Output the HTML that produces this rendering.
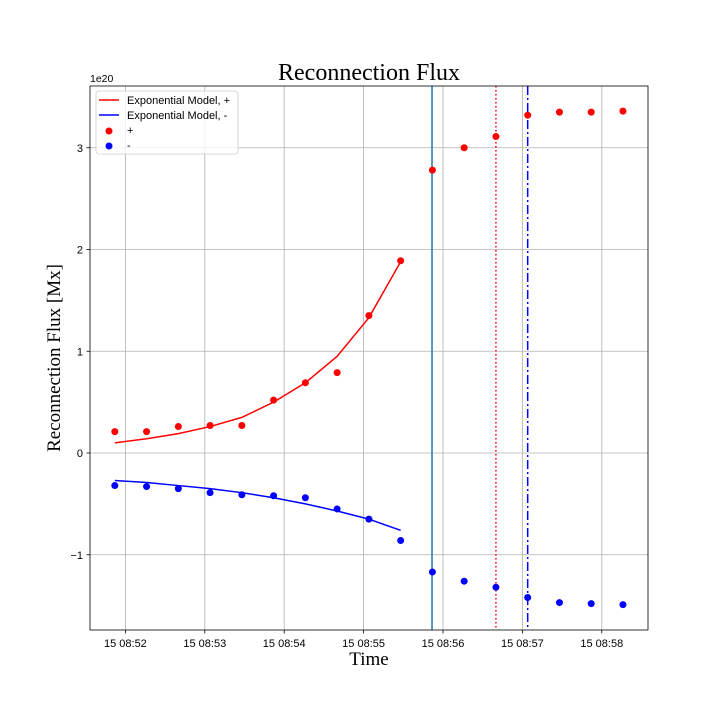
<!DOCTYPE html>
<html><head><meta charset="utf-8"><style>
body{margin:0;background:#fff}
svg{font-family:"Liberation Sans",sans-serif}
</style></head><body>
<svg id="chart" width="720" height="720" viewBox="0 0 720 720">
<text x="369" y="80" text-anchor="middle" font-family="Liberation Serif,serif" font-size="24">Reconnection Flux</text>
<text x="369" y="665" text-anchor="middle" font-family="Liberation Serif,serif" font-size="19">Time</text>
<text transform="translate(60,358) rotate(-90)" text-anchor="middle" font-family="Liberation Serif,serif" font-size="19">Reconnection Flux [Mx]</text>
<text x="90" y="82" font-size="10.5">1e20</text>
<g id="grid"></g><g id="marks"></g><g id="axes"></g>
</svg>
<script>
const times = [];
const startSec = 51*60+52; // 08:51:52
for (let i=0;i<17;i++) times.push(startSec+24*i);
const plusValues = [0.21,0.21,0.26,0.27,0.27,0.52,0.69,0.79,1.35,1.89,2.78,3.0,3.11,3.32,3.35,3.35,3.36];
const minusValues = [-0.32,-0.33,-0.35,-0.39,-0.41,-0.42,-0.44,-0.55,-0.65,-0.86,-1.17,-1.26,-1.32,-1.42,-1.47,-1.48,-1.49];
const plusModel = [0.10,0.14,0.19,0.26,0.35,0.50,0.69,0.95,1.33,1.88];
const minusModel = [-0.27,-0.29,-0.32,-0.35,-0.39,-0.44,-0.50,-0.57,-0.65,-0.76];
const xTickMinutes = [52,53,54,55,56,57,58];
const xTickLabels = ["15 08:52","15 08:53","15 08:54","15 08:55","15 08:56","15 08:57","15 08:58"];
const yTicks = [-1,0,1,2,3];
const yTickLabels = ["\u22121","0","1","2","3"];
const vlineSolid = 55*60+51.7, vlineDotted = 56*60+40, vlineDashDot = 57*60+4;

const L=90,R=648,T=86,B=630;
const pxPerMin=79.4, x0Sec=52*60, x0Px=125.4;
const X = s => x0Px + (s - x0Sec)/60*pxPerMin;
const Y = v => 453 - v*101.75;
const NS="http://www.w3.org/2000/svg";
function mk(tag, attrs, parent){const e=document.createElementNS(NS,tag);for(const k in attrs)e.setAttribute(k,attrs[k]);document.getElementById(parent).appendChild(e);return e;}

xTickMinutes.forEach((m,i)=>{
  const x=X(m*60);
  let g=mk('line',{x1:x,x2:x,y1:T,y2:B,stroke:'#b0b0b0','stroke-width':0.8},'grid');
  
  
  let t=mk('line',{x1:x,x2:x,y1:B,y2:B+3.5,stroke:'#000','stroke-width':0.8},'axes');
  
  
  let l=mk('text',{x:x,y:B+17,'text-anchor':'middle','font-size':11},'axes');
  l.textContent=xTickLabels[i];
  
  
});
yTicks.forEach((v,i)=>{
  const y=Y(v);
  let g=mk('line',{x1:L,x2:R,y1:y,y2:y,stroke:'#b0b0b0','stroke-width':0.8},'grid');
  
  
  let t=mk('line',{x1:L-3.5,x2:L,y1:y,y2:y,stroke:'#000','stroke-width':0.8},'axes');
  
  
  let l=mk('text',{x:L-7,y:y+4,'text-anchor':'end','font-size':11},'axes');
  l.textContent=yTickLabels[i];
  
  
});
let fr=mk('rect',{x:L,y:T,width:R-L,height:B-T,fill:'none',stroke:'#000','stroke-width':0.8},'axes');



let v1=mk('line',{x1:X(vlineSolid),x2:X(vlineSolid),y1:T,y2:B,stroke:'#1f77b4','stroke-width':1.5},'marks');


let v2=mk('line',{x1:X(vlineDotted),x2:X(vlineDotted),y1:T,y2:B,stroke:'red','stroke-width':1.5,'stroke-dasharray':'1.5,2.5'},'marks');


let v3=mk('line',{x1:X(vlineDashDot),x2:X(vlineDashDot),y1:T,y2:B,stroke:'blue','stroke-width':1.5,'stroke-dasharray':'9,3,2,3'},'marks');



let pp=mk('polyline',{points:plusModel.map((v,i)=>X(times[i])+','+Y(v)).join(' '),fill:'none',stroke:'red','stroke-width':1.5},'marks');


let mp=mk('polyline',{points:minusModel.map((v,i)=>X(times[i])+','+Y(v)).join(' '),fill:'none',stroke:'blue','stroke-width':1.5},'marks');


plusValues.forEach((v,i)=>{
  let c=mk('circle',{cx:X(times[i]),cy:Y(v),r:3.5,fill:'red'},'marks');
  
  
});
minusValues.forEach((v,i)=>{
  let c=mk('circle',{cx:X(times[i]),cy:Y(v),r:3.5,fill:'blue'},'marks');
  
  
});
</script>
<svg style="position:absolute;left:0;top:0" width="720" height="720">
<rect x="96" y="91" width="142" height="63" rx="3" fill="#fff" fill-opacity="0.8" stroke="#ccc" stroke-width="0.8"/>
<line x1="99" y1="100" x2="119" y2="100" stroke="red" stroke-width="1.5"/>
<text x="127" y="104" font-size="11" font-family="Liberation Sans,sans-serif">Exponential Model, +</text>
<line x1="99" y1="115" x2="119" y2="115" stroke="blue" stroke-width="1.5"/>
<text x="127" y="119" font-size="11" font-family="Liberation Sans,sans-serif">Exponential Model, -</text>
<circle cx="109" cy="131" r="3.5" fill="red"/>
<text x="127" y="134" font-size="11" font-family="Liberation Sans,sans-serif">+</text>
<circle cx="109" cy="146" r="3.5" fill="blue"/>
<text x="127" y="149" font-size="11" font-family="Liberation Sans,sans-serif">-</text>
</svg>
</body></html>
